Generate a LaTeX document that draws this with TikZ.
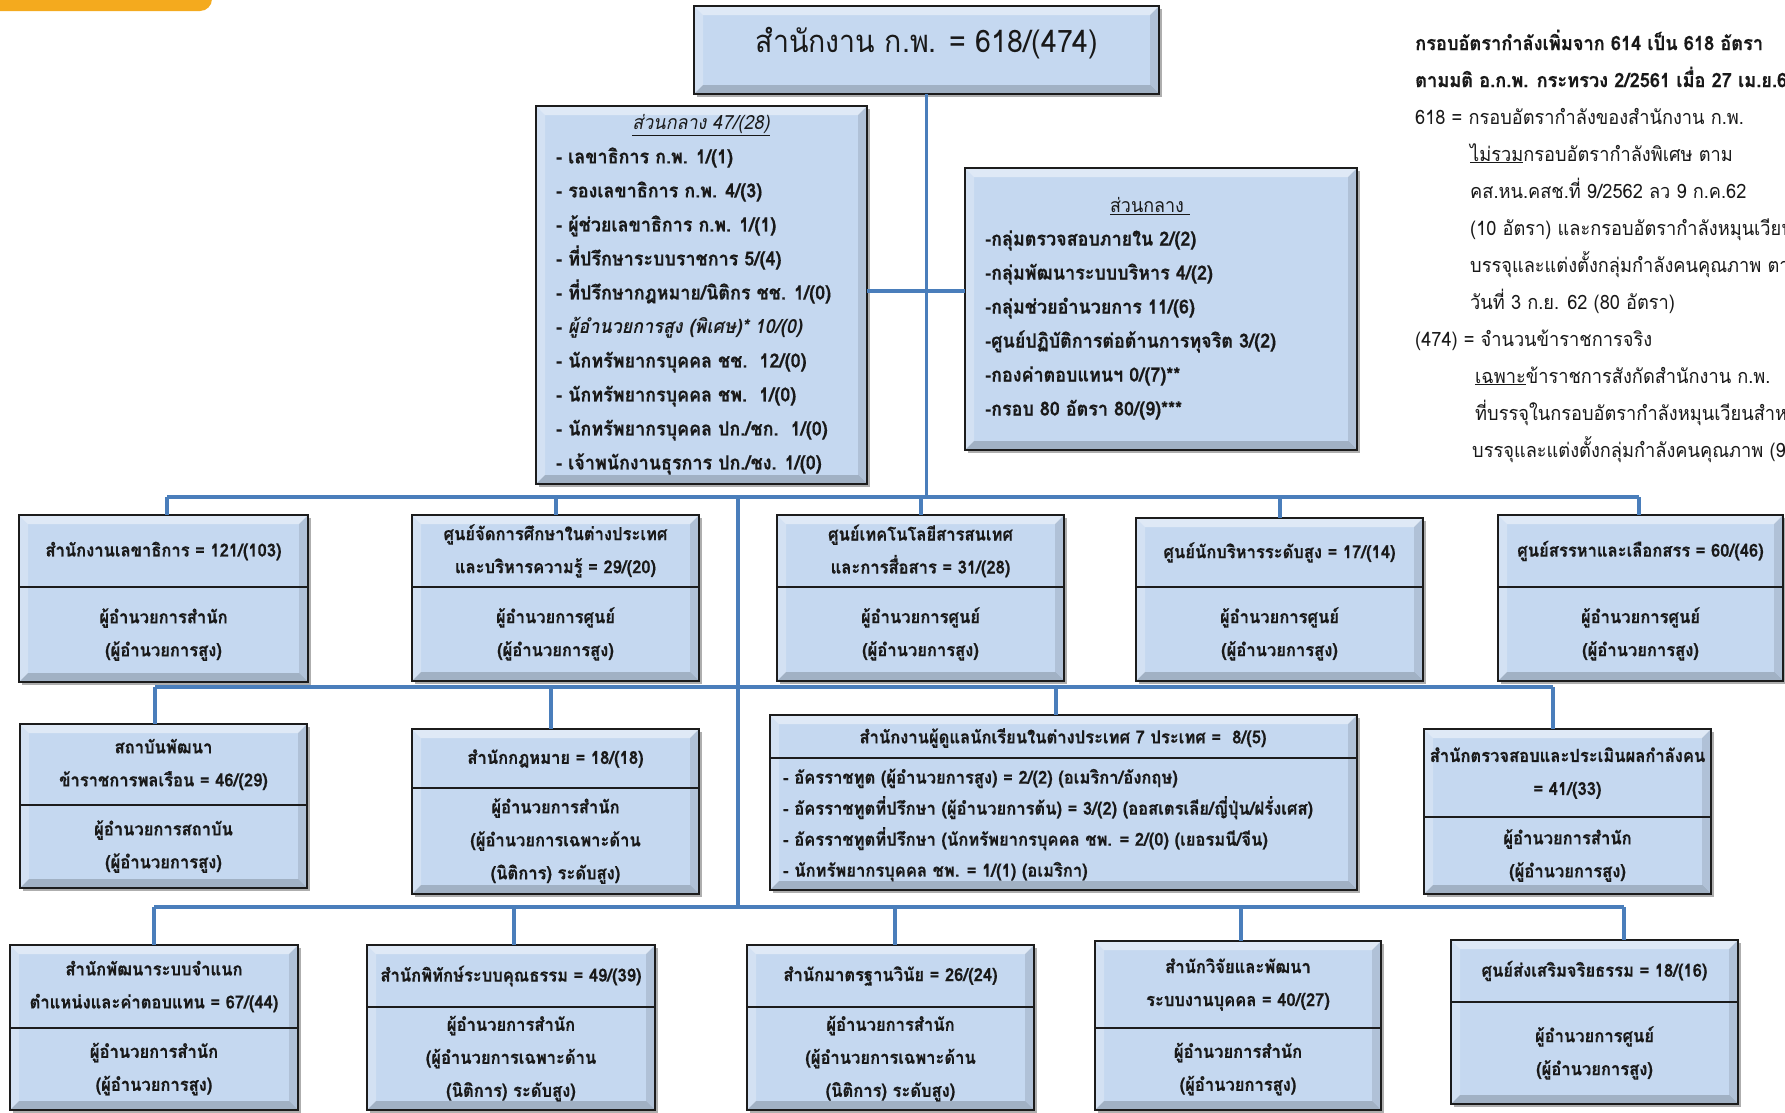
\documentclass[tikz,border=0pt]{standalone}
\usepackage{fontspec}
\setmainfont[Script=Thai, FakeStretch=0.92, BoldFeatures={FakeBold=0.4}]{Loma}
\usetikzlibrary{shadows}
\definecolor{boxfill}{RGB}{197,216,240}
\definecolor{boxborder}{RGB}{28,28,28}
\definecolor{linkblue}{RGB}{74,126,187}
\definecolor{txtcol}{RGB}{25,25,25}
\definecolor{tabor}{RGB}{244,170,30}
\newcommand\bxfont{\bfseries\fontsize{18}{33}\selectfont}
\newcommand\bxfontn{\bfseries\fontsize{18}{31}\selectfont}
\newcommand\lsfont{\bfseries\fontsize{19.5}{34}\selectfont}
\newcommand\ntfont{\fontsize{19.8}{37}\selectfont}
\tikzset{
  bevel/.style={path picture={
    \path (path picture bounding box.north west) coordinate (pNW)
          (path picture bounding box.north east) coordinate (pNE)
          (path picture bounding box.south west) coordinate (pSW)
          (path picture bounding box.south east) coordinate (pSE);
    \fill[white,opacity=0.45] (pNW) -- (pNE) -- ([xshift=-9pt,yshift=-9pt]pNE) -- ([xshift=9pt,yshift=-9pt]pNW) -- cycle;
    \fill[white,opacity=0.25] (pNW) -- ([xshift=9pt,yshift=-9pt]pNW) -- ([xshift=9pt,yshift=9pt]pSW) -- (pSW) -- cycle;
    \fill[black,opacity=0.18] (pSW) -- ([xshift=9pt,yshift=9pt]pSW) -- ([xshift=-9pt,yshift=9pt]pSE) -- (pSE) -- cycle;
    \fill[black,opacity=0.10] (pNE) -- (pSE) -- ([xshift=-9pt,yshift=9pt]pSE) -- ([xshift=-9pt,yshift=-9pt]pNE) -- cycle;
  }},
  boxs/.style={draw=boxborder, line width=2.6pt, fill=boxfill, bevel, inner sep=0pt, outer sep=0pt,
    drop shadow={shadow xshift=3pt, shadow yshift=-3pt, opacity=0.45, fill=black!70}},
  divl/.style={draw=boxborder, line width=2pt},
  link/.style={draw=linkblue, line width=3.2pt},
  btxt/.style={font=\bxfont, align=center, text=txtcol, inner sep=0pt},
  ltxt/.style={font=\lsfont, align=left, text=txtcol, inner sep=0pt, anchor=west},
}
\newcommand\twobox[8]{%
  \node[boxs, minimum width={(#4-#2)*1pt}, minimum height={(#5-#3)*1pt}] (#1) at ({(#2+#4)/2},{(#3+#5)/2}) {};
  \draw[divl] ({#2},{#6}) -- ({#4},{#6});
  \node[btxt] (#1-t) at ({(#2+#4)/2},{(#3+#6)/2}) {#7};
  \node[btxt] (#1-b) at ({(#2+#4)/2},{(#6+#5)/2}) {#8};
}
\begin{document}
\begin{tikzpicture}[x=1pt,y=-1pt]
\useasboundingbox (0,0) rectangle (1785,1112);
\clip (0,0) rectangle (1785,1112);
\fill[white] (0,0) rectangle (1785,1112);
% orange tab
\fill[tabor, rounded corners=12pt] (-30,-30) rectangle (212,11);

% ---------- connector points ----------
\coordinate (b1L) at (167,497);
\coordinate (b1R) at (1639,497);
\coordinate (s11) at (167,497);
\coordinate (s12) at (556,497);
\coordinate (s13) at (921,497);
\coordinate (s14) at (1280,497);
\coordinate (s15) at (1639,497);
\coordinate (t2a) at (738,497);
\coordinate (t2b) at (738,907);
\coordinate (b2L) at (155,687);
\coordinate (b2R) at (1553,687);
\coordinate (s21) at (155,687);
\coordinate (s22) at (551,687);
\coordinate (s23) at (1056,687);
\coordinate (s24) at (1553,687);
\coordinate (b3L) at (154,907);
\coordinate (b3R) at (1624,907);
\coordinate (s31) at (154,907);
\coordinate (s32) at (514,907);
\coordinate (s33) at (895,907);
\coordinate (s34) at (1241,907);
\coordinate (s35) at (1624,907);
\coordinate (hsk) at (900,291);

% ---------- top box ----------
\node[boxs, minimum width=465pt, minimum height=88pt] (top) at (926.5,50) {};
\node[font=\fontsize{31}{36}\selectfont, text=txtcol, inner sep=0pt] (top-t) at (927,43) {สำนักงาน ก.พ. = 618/(474)};

\draw[link] (top.south) -- (top.south |- b1L);
\draw[link] (b1L) -- (b1R);
\draw[link] (t2a) -- (t2b);
\draw[link] (b2L) -- (b2R);
\draw[link] (b3L) -- (b3R);

% ---------- ส่วนกลาง boxes ----------
\node[boxs, minimum width=331pt, minimum height=378pt] (sk1) at (701.5,295) {};
\node[boxs, minimum width=392pt, minimum height=282pt] (sk2) at (1161,309) {};
\draw[link] (sk1.east |- hsk) -- (sk2.west |- hsk);
\node[font=\itshape\fontsize{19.5}{34}\selectfont, text=txtcol, inner sep=0pt] (sk1-t) at (701,125) {\underline{ส่วนกลาง 47/(28)}};
\node[ltxt] (sk1-l) at (556,311) {- เลขาธิการ ก.พ. 1/(1)\\
- รองเลขาธิการ ก.พ. 4/(3)\\
- ผู้ช่วยเลขาธิการ ก.พ. 1/(1)\\
- ที่ปรึกษาระบบราชการ 5/(4)\\
- ที่ปรึกษากฎหมาย/นิติกร ชช. 1/(0)\\
- \textit{ผู้อำนวยการสูง (พิเศษ)* 10/(0)}\\
- นักทรัพยากรบุคคล ชช.\ \ 12/(0)\\
- นักทรัพยากรบุคคล ชพ.\ \ 1/(0)\\
- นักทรัพยากรบุคคล ปก./ชก.\ \ 1/(0)\\
- เจ้าพนักงานธุรการ ปก./ชง. 1/(0)};
\node[font=\fontsize{19.5}{34}\selectfont, text=txtcol, inner sep=0pt] (sk2-t) at (1150,206) {\underline{ส่วนกลาง\ }};
\node[ltxt] (sk2-l) at (985,325) {-กลุ่มตรวจสอบภายใน 2/(2)\\
-กลุ่มพัฒนาระบบบริหาร 4/(2)\\
-กลุ่มช่วยอำนวยการ 11/(6)\\
-ศูนย์ปฏิบัติการต่อต้านการทุจริต 3/(2)\\
-กองค่าตอบแทนฯ 0/(7)**\\
-กรอบ 80 อัตรา 80/(9)***};

% ---------- row 1 ----------
\twobox{r1a}{19}{515}{308}{682}{587}{สำนักงานเลขาธิการ = 121/(103)}{ผู้อำนวยการสำนัก\\(ผู้อำนวยการสูง)}
\twobox{r1b}{412}{515}{699}{681}{587}{ศูนย์จัดการศึกษาในต่างประเทศ\\และบริหารความรู้ = 29/(20)}{ผู้อำนวยการศูนย์\\(ผู้อำนวยการสูง)}
\twobox{r1c}{777}{515}{1064}{681}{587}{ศูนย์เทคโนโลยีสารสนเทศ\\และการสื่อสาร = 31/(28)}{ผู้อำนวยการศูนย์\\(ผู้อำนวยการสูง)}
\twobox{r1d}{1136}{518}{1423}{681}{587}{ศูนย์นักบริหารระดับสูง = 17/(14)}{ผู้อำนวยการศูนย์\\(ผู้อำนวยการสูง)}
\twobox{r1e}{1498}{515}{1783}{681}{587}{ศูนย์สรรหาและเลือกสรร = 60/(46)}{ผู้อำนวยการศูนย์\\(ผู้อำนวยการสูง)}
\draw[link] (s11) -- (s11 |- r1a.north);
\draw[link] (s12) -- (s12 |- r1b.north);
\draw[link] (s13) -- (s13 |- r1c.north);
\draw[link] (s14) -- (s14 |- r1d.north);
\draw[link] (s15) -- (s15 |- r1e.north);

% ---------- row 2 ----------
\twobox{r2a}{20}{724}{307}{888}{805}{สถาบันพัฒนา\\ข้าราชการพลเรือน = 46/(29)}{ผู้อำนวยการสถาบัน\\(ผู้อำนวยการสูง)}
\twobox{r2b}{412}{729}{699}{894}{788}{สำนักกฎหมาย = 18/(18)}{ผู้อำนวยการสำนัก\\(ผู้อำนวยการเฉพาะด้าน\\(นิติการ) ระดับสูง)}
\node[boxs, minimum width=587pt, minimum height=175pt] (r2c) at (1063.5,802.5) {};
\draw[divl] (770,758) -- (1357,758);
\node[btxt] (r2c-t) at (1063,738) {สำนักงานผู้ดูแลนักเรียนในต่างประเทศ 7 ประเทศ =\ \ 8/(5)};
\node[ltxt, font=\bxfontn] (r2c-l) at (783,825) {- อัครราชทูต (ผู้อำนวยการสูง) = 2/(2) (อเมริกา/อังกฤษ)\\
- อัครราชทูตที่ปรึกษา (ผู้อำนวยการต้น) = 3/(2) (ออสเตรเลีย/ญี่ปุ่น/ฝรั่งเศส)\\
- อัครราชทูตที่ปรึกษา (นักทรัพยากรบุคคล ชพ. = 2/(0) (เยอรมนี/จีน)\\
- นักทรัพยากรบุคคล ชพ. = 1/(1) (อเมริกา)};
\twobox{r2d}{1424}{729}{1711}{894}{817}{สำนักตรวจสอบและประเมินผลกำลังคน\\= 41/(33)}{ผู้อำนวยการสำนัก\\(ผู้อำนวยการสูง)}
\draw[link] (s21) -- (s21 |- r2a.north);
\draw[link] (s22) -- (s22 |- r2b.north);
\draw[link] (s23) -- (s23 |- r2c.north);
\draw[link] (s24) -- (s24 |- r2d.north);

% ---------- row 3 ----------
\twobox{r3a}{10}{945}{298}{1110}{1028}{สำนักพัฒนาระบบจำแนก\\ตำแหน่งและค่าตอบแทน = 67/(44)}{ผู้อำนวยการสำนัก\\(ผู้อำนวยการสูง)}
\twobox{r3b}{367}{945}{655}{1110}{1007}{สำนักพิทักษ์ระบบคุณธรรม = 49/(39)}{ผู้อำนวยการสำนัก\\(ผู้อำนวยการเฉพาะด้าน\\(นิติการ) ระดับสูง)}
\twobox{r3c}{747}{945}{1034}{1110}{1007}{สำนักมาตรฐานวินัย = 26/(24)}{ผู้อำนวยการสำนัก\\(ผู้อำนวยการเฉพาะด้าน\\(นิติการ) ระดับสูง)}
\twobox{r3d}{1095}{941}{1381}{1110}{1028}{สำนักวิจัยและพัฒนา\\ระบบงานบุคคล = 40/(27)}{ผู้อำนวยการสำนัก\\(ผู้อำนวยการสูง)}
\twobox{r3e}{1451}{940}{1738}{1104}{1002}{ศูนย์ส่งเสริมจริยธรรม = 18/(16)}{ผู้อำนวยการศูนย์\\(ผู้อำนวยการสูง)}
\draw[link] (s31) -- (s31 |- r3a.north);
\draw[link] (s32) -- (s32 |- r3b.north);
\draw[link] (s33) -- (s33 |- r3c.north);
\draw[link] (s34) -- (s34 |- r3d.north);
\draw[link] (s35) -- (s35 |- r3e.north);

% ---------- notes ----------
\node[font=\ntfont, align=left, text=txtcol, inner sep=0pt, anchor=west] (notes) at (1415,246) {%
\textbf{กรอบอัตรากำลังเพิ่มจาก 614 เป็น 618 อัตรา}\\
\textbf{ตามมติ อ.ก.พ. กระทรวง 2/2561 เมื่อ 27 เม.ย.61}\\
618 = กรอบอัตรากำลังของสำนักงาน ก.พ.\\
\hspace*{55pt}\underline{ไม่รวม}กรอบอัตรากำลังพิเศษ ตาม\\
\hspace*{55pt}คส.หน.คสช.ที่ 9/2562 ลว 9 ก.ค.62\\
\hspace*{55pt}(10 อัตรา) และกรอบอัตรากำลังหมุนเวียนสำหรับ\\
\hspace*{55pt}บรรจุและแต่งตั้งกลุ่มกำลังคนคุณภาพ ตามมติ\\
\hspace*{55pt}วันที่ 3 ก.ย. 62 (80 อัตรา)\\
(474) = จำนวนข้าราชการจริง\\
\hspace*{60pt}\underline{เฉพาะ}ข้าราชการสังกัดสำนักงาน ก.พ.\\
\hspace*{60pt}ที่บรรจุในกรอบอัตรากำลังหมุนเวียนสำหรับ\\
\hspace*{57pt}บรรจุและแต่งตั้งกลุ่มกำลังคนคุณภาพ (9)};
\end{tikzpicture}
\end{document}
